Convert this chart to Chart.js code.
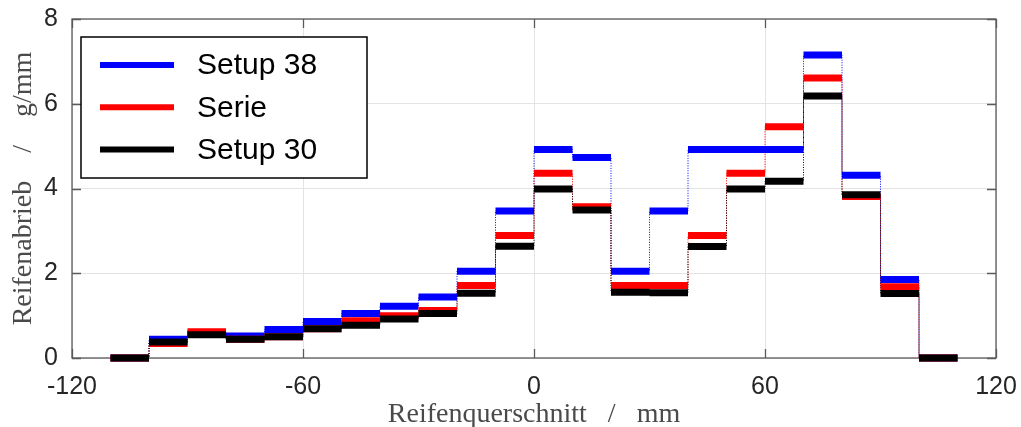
<!DOCTYPE html>
<html>
<head>
<meta charset="utf-8">
<script src="https://cdn.jsdelivr.net/npm/chart.js@4.4.1/dist/chart.umd.min.js"></script>
<style>
  html, body { margin: 0; padding: 0; background: #fff; }
  #wrap { width: 1021px; height: 427px; position: relative; }
</style>
</head>
<body>
<div id="wrap"><canvas id="abriebChart"></canvas></div>
<script>
// Bin edges across the tyre width (mm), one value per 10 mm bin
const binEdges = [-110, -100, -90, -80, -70, -60, -50, -40, -30, -20, -10, 0,
                  10, 20, 30, 40, 50, 60, 70, 80, 90, 100, 110];

// Tyre wear per bin (g/mm)
const setup38 = [0, 0.44, 0.58, 0.52, 0.67, 0.86, 1.05, 1.22, 1.44, 2.05, 3.47,
                 4.92, 4.73, 2.05, 3.47, 4.92, 4.92, 4.92, 7.15, 4.31, 1.85, 0];
const serie   = [0, 0.34, 0.62, 0.44, 0.50, 0.69, 0.88, 1.00, 1.12, 1.71, 2.89,
                 4.36, 3.57, 1.71, 1.71, 2.89, 4.36, 5.46, 6.61, 3.81, 1.68, 0];
const setup30 = [0, 0.38, 0.55, 0.44, 0.50, 0.69, 0.77, 0.92, 1.05, 1.53, 2.64,
                 3.99, 3.49, 1.55, 1.54, 2.63, 3.99, 4.17, 6.18, 3.85, 1.52, 0];

const seriesNames = ["Setup 38", "Serie", "Setup 30"];
const seriesValues = [setup38, serie, setup30];
const seriesColors = ["#0000ff", "#ff0000", "#000000"];

const xTicks = [-120, -60, 0, 60, 120];
const yTicks = [0, 2, 4, 6, 8];

const sansFont = "'Liberation Sans', Arial, sans-serif";
const serifFont = "'Liberation Serif', 'Times New Roman', serif";

// Thick horizontal piece per bin, broken between bins
function binSegments(vals) {
    const pts = [];
    vals.forEach((v, i) => {
        pts.push({ x: binEdges[i], y: v });
        pts.push({ x: binEdges[i + 1], y: v });
        pts.push({ x: binEdges[i + 1], y: null });
    });
    return pts;
}

// Continuous step outline, used for the thin dotted risers
function stepOutline(vals) {
    const pts = [];
    vals.forEach((v, i) => {
        pts.push({ x: binEdges[i], y: v });
        pts.push({ x: binEdges[i + 1], y: v });
    });
    return pts;
}

const datasets = [];
// first dataset is painted last, so black ends up on top
for (let s = seriesValues.length - 1; s >= 0; s--) {
    datasets.push({
        label: seriesNames[s],
        data: binSegments(seriesValues[s]),
        borderColor: seriesColors[s],
        borderWidth: 7,
        borderCapStyle: "butt",
        pointRadius: 0,
        spanGaps: false,
        tension: 0,
        clip: 12
    });
}
for (let s = seriesValues.length - 1; s >= 0; s--) {
    datasets.push({
        label: seriesNames[s] + " risers",
        data: stepOutline(seriesValues[s]),
        borderColor: seriesColors[s],
        borderWidth: 1,
        borderDash: [1, 1.5],
        pointRadius: 0,
        tension: 0,
        clip: 12
    });
}

// Box frame with inward ticks and the boxed legend
const frameAndLegend = {
    id: "frameAndLegend",
    beforeDatasetsDraw(chart) {
        const { ctx, chartArea: a, scales: { x, y } } = chart;
        ctx.save();
        ctx.strokeStyle = "#5a5a5a";
        ctx.lineWidth = 1.3;
        ctx.strokeRect(a.left, a.top, a.right - a.left, a.bottom - a.top);
        ctx.beginPath();
        xTicks.forEach(v => {
            const px = Math.round(x.getPixelForValue(v)) + 0.5;
            ctx.moveTo(px, a.bottom); ctx.lineTo(px, a.bottom - 9);
            ctx.moveTo(px, a.top); ctx.lineTo(px, a.top + 9);
        });
        yTicks.forEach(v => {
            const py = Math.round(y.getPixelForValue(v)) + 0.5;
            ctx.moveTo(a.left, py); ctx.lineTo(a.left + 9, py);
            ctx.moveTo(a.right, py); ctx.lineTo(a.right - 9, py);
        });
        ctx.stroke();
        ctx.restore();
    },
    afterDraw(chart) {
        const { ctx, chartArea: a } = chart;
        const bx = a.left + 9, by = a.top + 18, bw = 286, bh = 141;
        ctx.save();
        ctx.fillStyle = "#fff";
        ctx.fillRect(bx, by, bw, bh);
        ctx.strokeStyle = "#000";
        ctx.lineWidth = 1.5;
        ctx.strokeRect(bx, by, bw, bh);
        ctx.font = "30px " + sansFont;
        ctx.textBaseline = "middle";
        seriesNames.forEach((name, i) => {
            const cy = by + 28 + i * 42.3;
            ctx.strokeStyle = seriesColors[i];
            ctx.lineWidth = 6;
            ctx.beginPath();
            ctx.moveTo(bx + 19, cy);
            ctx.lineTo(bx + 93, cy);
            ctx.stroke();
            ctx.fillStyle = "#000";
            ctx.fillText(name, bx + 116, cy + 1);
        });
        ctx.restore();
    }
};

const ctx = document.getElementById("abriebChart").getContext("2d");
const abriebChart = new Chart(ctx, {
    type: "line",
    data: { datasets: datasets },
    options: {
        responsive: true,
        maintainAspectRatio: false,
        animation: false,
        events: [],
        layout: { padding: { top: 19, right: 25, left: 0, bottom: 0 } },
        plugins: {
            legend: { display: false },
            tooltip: { enabled: false }
        },
        scales: {
            x: {
                type: "linear",
                min: -120,
                max: 120,
                afterBuildTicks: s => { s.ticks = xTicks.map(v => ({ value: v })); },
                afterFit: s => { s.height = 69; },
                // invisible tick marks only reserve room above the labels
                grid: { color: "#e3e3e3", lineWidth: 1, drawTicks: true, tickLength: 14, tickColor: "rgba(0,0,0,0)" },
                border: { display: false },
                ticks: {
                    padding: 0,
                    maxRotation: 0,
                    color: "#262626",
                    font: { family: sansFont, size: 25 }
                },
                title: {
                    display: true,
                    text: "Reifenquerschnitt   /   mm",
                    color: "#4a4a4a",
                    font: { family: serifFont, size: 28, lineHeight: 0.9 },
                    padding: { top: 0, bottom: 0 }
                }
            },
            y: {
                type: "linear",
                min: 0,
                max: 8,
                afterBuildTicks: s => { s.ticks = yTicks.map(v => ({ value: v })); },
                afterFit: s => { s.width = 72; },
                grid: { color: "#e3e3e3", lineWidth: 1, drawTicks: true, tickLength: 14, tickColor: "rgba(0,0,0,0)" },
                border: { display: false },
                ticks: {
                    padding: 0,
                    color: "#262626",
                    font: { family: sansFont, size: 25 }
                },
                title: {
                    display: true,
                    text: "Reifenabrieb    /    g/mm",
                    color: "#4a4a4a",
                    font: { family: serifFont, size: 28, lineHeight: 1 },
                    padding: { top: 10, bottom: 10 }
                }
            }
        }
    },
    plugins: [frameAndLegend]
});
</script>
</body>
</html>
